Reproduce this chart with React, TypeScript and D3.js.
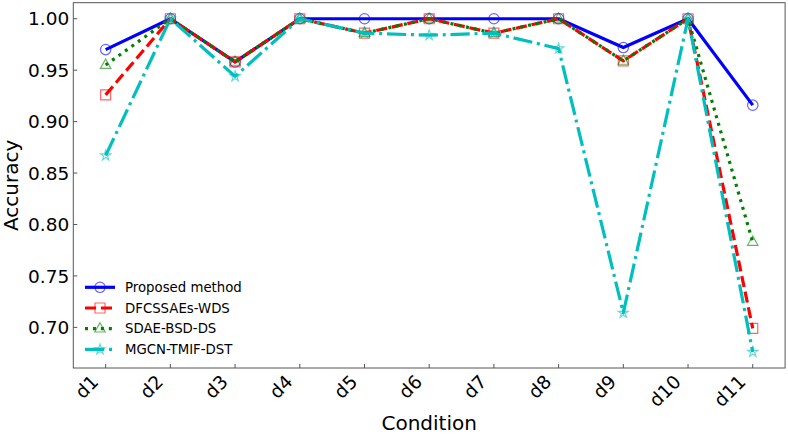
import { useEffect } from 'react';
import * as d3 from 'd3';

const conditions = ['d1', 'd2', 'd3', 'd4', 'd5', 'd6', 'd7', 'd8', 'd9', 'd10', 'd11'];
const proposed = [0.970, 1.0, 0.958, 1.0, 1.0, 1.0, 1.0, 1.0, 0.972, 1.0, 0.916];
const dfcssaes = [0.926, 1.0, 0.958, 1.0, 0.986, 1.0, 0.986, 1.0, 0.959, 1.0, 0.699];
const sdae = [0.955, 1.0, 0.958, 1.0, 0.986, 1.0, 0.986, 1.0, 0.959, 1.0, 0.783];
const mgcn = [0.867, 1.0, 0.944, 1.0, 0.986, 0.984, 0.986, 0.971, 0.714, 1.0, 0.676];
const yTicks = [0.7, 0.75, 0.8, 0.85, 0.9, 0.95, 1.0];

const W = 788;
const H = 435;
const left = 73.3;
const right = 785.1;
const top = 2.7;
const bottom = 368;
const FONT = 'DejaVu Sans, sans-serif';

const series = [
  { name: 'Proposed method', values: proposed, color: '#0000ff', dash: '', marker: 'circle' },
  { name: 'DFCSSAEs-WDS', values: dfcssaes, color: '#ff0000', dash: '11.1,4.8', marker: 'square' },
  { name: 'SDAE-BSD-DS', values: sdae, color: '#008000', dash: '3,4.95', marker: 'triangle' },
  { name: 'MGCN-TMIF-DST', values: mgcn, color: '#00bfbf', dash: '19.2,4.8,3,4.8', marker: 'star' },
];

const markerPath = (kind: string) => {
  if (kind === 'circle') return d3.symbol(d3.symbolCircle, 85)()!;
  if (kind === 'square') return d3.symbol(d3.symbolSquare, 100)()!;
  if (kind === 'triangle') {
    const r = 6;
    return `M0,${-r}L${r * 0.87},${r * 0.55}L${-r * 0.87},${r * 0.55}Z`;
  }
  return d3.symbol(d3.symbolStar, 32)()!;
};

export default function App() {
  useEffect(() => {
    document.body.style.margin = '0';
  }, []);

  const x = d3.scalePoint<string>().domain(conditions).range([left, right]).padding(0.5);
  const y = d3.scaleLinear().domain([0.6605, 1.0156]).range([bottom, top]);

  const line = d3
    .line<number>()
    .x((_, i) => x(conditions[i])!)
    .y((d) => y(d));

  return (
    <svg width={W} height={H} style={{ display: 'block', background: '#fff' }} fontFamily={FONT}>
      {series.map((s) => (
        <g key={s.name}>
          <path
            d={line(s.values)!}
            fill="none"
            stroke={s.color}
            strokeWidth={3.2}
            strokeDasharray={s.dash || undefined}
            strokeLinejoin="round"
          />
          {s.values.map((v, i) => (
            <path
              key={i}
              d={markerPath(s.marker)}
              transform={`translate(${x(conditions[i])},${y(v)})`}
              fill="none"
              stroke={s.color}
              strokeOpacity={0.6}
              strokeWidth={1.2}
            />
          ))}
        </g>
      ))}

      <rect x={left} y={top} width={right - left} height={bottom - top} fill="none" stroke="#555" strokeWidth={1} />

      {yTicks.map((t) => (
        <g key={t} transform={`translate(${left},${y(t)})`}>
          <line x2={4} stroke="#555" />
          <text x={-4} dy="0.36em" textAnchor="end" fontSize={18.5} fill="#000">
            {t.toFixed(2)}
          </text>
        </g>
      ))}

      {conditions.map((c) => (
        <g key={c} transform={`translate(${x(c)},${bottom})`}>
          <line y2={-4} stroke="#555" />
          <text transform="translate(-6,15) rotate(-45)" textAnchor="end" fontSize={18.5} fill="#000">
            {c}
          </text>
        </g>
      ))}

      <text x={(left + right) / 2} y={429.5} textAnchor="middle" fontSize={20} fill="#000">
        Condition
      </text>
      <text transform={`translate(18,${(top + bottom) / 2}) rotate(-90)`} textAnchor="middle" fontSize={20} fill="#000">
        Accuracy
      </text>

      {series.map((s, i) => {
        const ly = 287.3 + i * 20.7;
        return (
          <g key={s.name} transform={`translate(85,${ly})`}>
            <line x2={30} stroke={s.color} strokeWidth={3.2} strokeDasharray={s.dash || undefined} />
            <path
              d={markerPath(s.marker)}
              transform="translate(15,0)"
              fill="none"
              stroke={s.color}
              strokeOpacity={0.6}
              strokeWidth={1.2}
            />
            <text x={40} dy="0.35em" fontSize={13.3} fill="#000">
              {s.name}
            </text>
          </g>
        );
      })}
    </svg>
  );
}
